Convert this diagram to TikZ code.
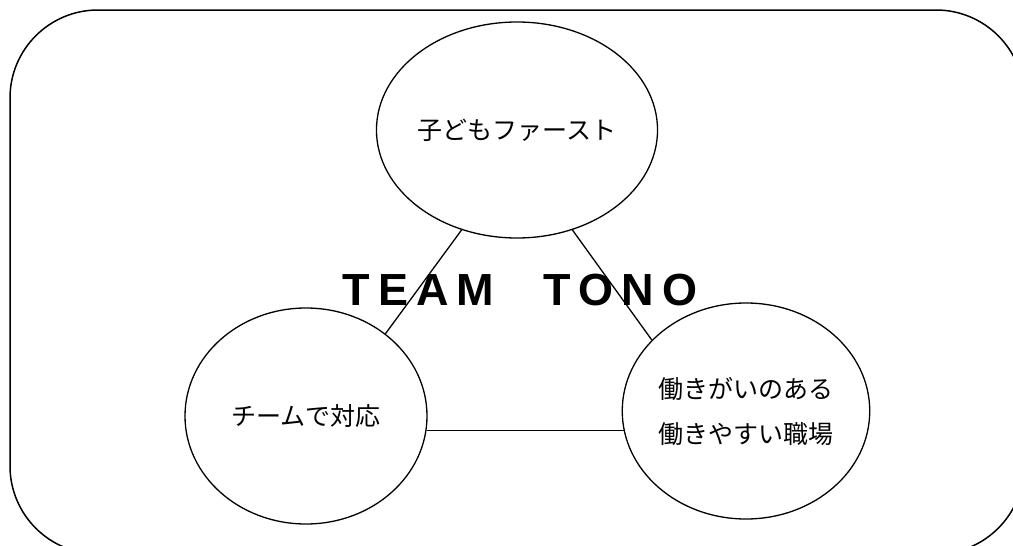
\documentclass[tikz,border=0pt]{standalone}
\usepackage{fontspec}
\setmainfont{Liberation Sans}
\newfontfamily\jp{Noto Sans CJK JP}
\usetikzlibrary{shapes.geometric}
\tikzset{
  circ/.style={ellipse, draw, line width=1.3pt, minimum width=242pt, minimum height=216pt, inner sep=0pt, align=center},
  jptext/.style={font=\jp\fontsize{25}{45}\selectfont},
  link/.style={line width=1.3pt},
}
\begin{document}
\begin{tikzpicture}[x=1pt,y=-1pt]
\useasboundingbox (0,0) rectangle (1013,546);
\clip (0,0) rectangle (1013,546);
\draw[line width=1.5pt, rounded corners=88pt] (10,10) rectangle (1024,554);
\node[circ, jptext] (top) at (517,130) {子どもファースト};
\node[circ, jptext] (left) at (306,416) {チームで対応};
\node[circ, jptext] (right) at (746,411) {働きがいのある\\働きやすい職場};
\node[font=\bfseries\fontsize{45}{45}\selectfont, anchor=base, inner sep=0pt] (title) at (520,305)
  {T\kern8pt E\kern8pt A\kern8pt M\kern49pt T\kern8pt O\kern8pt N\kern8pt O};
\coordinate (hl) at (left.-7.5);
\coordinate (hr) at (hl -| right.190);
\draw[link] (top.241) -- (left.46);
\draw[link] (top.-61) -- (right.143);
\draw[link] (hl) -- (hr);
\end{tikzpicture}
\end{document}
